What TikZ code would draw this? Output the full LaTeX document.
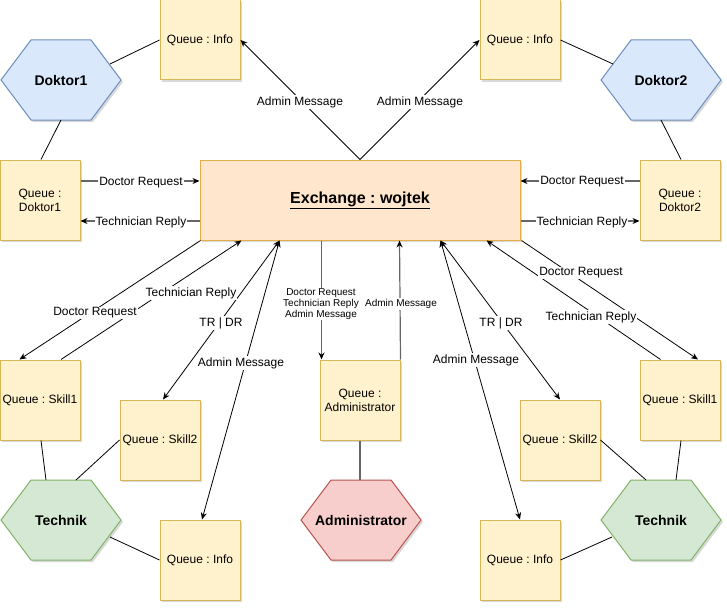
\documentclass[tikz,border=0pt]{standalone}
\usepackage{fontspec}
\setmainfont{Liberation Sans}
\usetikzlibrary{arrows.meta,calc,shadows}
\definecolor{qfill}{HTML}{FFF2CC}
\definecolor{qdraw}{HTML}{D6B656}
\definecolor{exfill}{HTML}{FFE6CC}
\definecolor{exdraw}{HTML}{E2AE48}
\definecolor{bfill}{HTML}{DAE8FC}
\definecolor{bdraw}{HTML}{6C8EBF}
\definecolor{gfill}{HTML}{D5E8D4}
\definecolor{gdraw}{HTML}{82B366}
\definecolor{rfill}{HTML}{F8CECC}
\definecolor{rdraw}{HTML}{B85450}
\definecolor{lgray}{HTML}{666666}
\tikzset{
  softshadow/.style={drop shadow={shadow xshift=2pt,shadow yshift=-2pt,opacity=0.15,fill=black}},
  queue/.style={draw=qdraw,fill=qfill,line width=1pt,minimum width=80pt,minimum height=80pt,
    inner sep=0pt,align=center,font=\fontsize{12}{14}\selectfont,softshadow},
  exbox/.style={draw=exdraw,fill=exfill,line width=1pt,minimum width=320pt,minimum height=80pt,
    font=\fontsize{16}{19}\selectfont\bfseries,softshadow},
  hexbox/.style={line width=1pt,softshadow},
  hextext/.style={font=\fontsize{14}{17}\selectfont\bfseries,inner sep=0pt},
  tipa/.style={-{Stealth[length=7pt,width=6pt]}},
  arr/.style={black,line width=0.8pt,tipa},
  darr/.style={black,line width=0.8pt,{Stealth[length=7pt,width=6pt]}-{Stealth[length=7pt,width=6pt]}},
  garr/.style={lgray,line width=1.2pt,-{Stealth[length=7pt,width=6pt,color=black]}},
  link/.style={black,line width=0.8pt},
  glink/.style={lgray,line width=1.2pt},
  lbl/.style={fill=white,inner sep=1pt,font=\fontsize{12}{14}\selectfont},
  slbl/.style={fill=white,inner sep=1pt,align=center,font=\fontsize{10}{12}\selectfont},
}
\newcommand{\hexshape}[5]{%
  \path[hexbox,fill=#3,draw=#4] ($#2+(-60,0)$) -- ($#2+(-30,-40)$) -- ($#2+(30,-40)$)
     -- ($#2+(60,0)$) -- ($#2+(30,40)$) -- ($#2+(-30,40)$) -- cycle;
  \node[hextext] (#1) at #2 {#5};%
}
\begin{document}
\frenchspacing
\begin{tikzpicture}[x=1pt,y=-1pt]
\useasboundingbox (0,0) rectangle (727,607);
% nodes
\node[exbox] (ex) at (360,200) {\raisebox{-3pt}{\underline{Exchange : wojtek}}};
\node[queue] (qi1) at (200,40) {Queue : Info};
\node[queue] (qi2) at (520,40) {Queue : Info};
\node[queue] (qd1) at (40,200) {Queue :\\Doktor1};
\node[queue] (qd2) at (680,200) {Queue :\\Doktor2};
\node[queue] (qs1l) at (40,400) {Queue : Skill1};
\node[queue] (qs2l) at (160,440) {Queue : Skill2};
\node[queue] (qi3) at (200,560) {Queue : Info};
\node[queue] (qad) at (360,400) {Queue :\\Administrator};
\node[queue] (qs2r) at (560,440) {Queue : Skill2};
\node[queue] (qs1r) at (680,400) {Queue : Skill1};
\node[queue] (qi4) at (520,560) {Queue : Info};
\hexshape{d1}{(61,80)}{bfill}{bdraw}{Doktor1}
\hexshape{d2}{(661,80)}{bfill}{bdraw}{Doktor2}
\hexshape{t1}{(61,520)}{gfill}{gdraw}{Technik}
\hexshape{t2}{(661,520)}{gfill}{gdraw}{Technik}
\hexshape{adm}{(361,520)}{rfill}{rdraw}{Administrator}
% hexagon border points
\coordinate (d1a) at (110,64);
\coordinate (d1b) at (61,120);
\coordinate (d2a) at (613,64);
\coordinate (d2b) at (661,120);
\coordinate (t1a) at (46,480);
\coordinate (t1b) at (76,480);
\coordinate (t1c) at (110,537);
\coordinate (t2a) at (676,480);
\coordinate (t2b) at (646,480);
\coordinate (t2c) at (612,537);
\coordinate (adma) at (360,480);
% plain links
\draw[link] (d1a) -- (qi1.west);
\draw[link] (d1b) -- ($(qd1.north)+(1,0)$);
\draw[link] (d2a) -- (qi2.east);
\draw[link] (d2b) -- ($(qd2.north)+(1,0)$);
\draw[link] ($(qs1l.south)+(1,0)$) -- (t1a);
\draw[link] (qs2l.west) -- (t1b);
\draw[link] (t1c) -- (qi3.west);
\draw[link] ($(qs1r.south)+(1,0)$) -- (t2a);
\draw[link] (qs2r.east) -- (t2b);
\draw[link] (t2c) -- (qi4.east);
\draw[glink] (qad.south) -- (adma);
% exchange connectors
\draw[arr] (ex.north) -- (qi1.east);
\draw[arr] (ex.north) -- (qi2.west);
\draw[garr] ($(qd1.east)+(0,-19)$) -- ($(ex.west)+(0,-19)$);
\draw[garr] ($(ex.west)+(0,21)$) -- ($(qd1.east)+(0,21)$);
\draw[garr] ($(qd2.west)+(0,-19)$) -- ($(ex.east)+(0,-19)$);
\draw[garr] ($(ex.east)+(0,21)$) -- ($(qd2.west)+(0,21)$);
\draw[arr] ($(ex.south west)+(1,0)$) -- ($(qs1l.north west)+(20,0)$);
\draw[arr] ($(qs1l.north)+(21,0)$) -- ($(ex.south west)+(42,0)$);
\draw[darr] ($(ex.south west)+(80,0)$) -- ($(qs2l.north)+(3,0)$);
\draw[darr] ($(ex.south west)+(80,0)$) -- ($(qi3.north)+(2,0)$);
\draw[garr] ($(ex.south west)+(122,0)$) -- ($(qad.north west)+(2,0)$);
\draw[garr] (qad.north east) -- ($(ex.south west)+(200,0)$);
\draw[darr] ($(ex.south west)+(241,0)$) -- (qs2r.north);
\draw[darr] ($(ex.south west)+(241,0)$) -- (qi4.north);
\draw[arr] ($(ex.south east)+(1,0)$) -- ($(qs1r.north)+(18,0)$);
\draw[arr] ($(qs1r.north west)+(21,0)$) -- ($(ex.south west)+(287,0)$);
% labels
\node[lbl] (l1) at (300,102) {Admin Message};
\node[lbl] (l2) at (420,102) {Admin Message};
\node[lbl] (l3) at (141,183) {Doctor Request};
\node[lbl] (l4) at (141,222) {Technician Reply};
\node[lbl] (l5) at (582,182) {Doctor Request};
\node[lbl] (l6) at (582,222) {Technician Reply};
\node[lbl] (l7) at (95,313) {Doctor Request};
\node[lbl] (l8) at (191,293) {Technician Reply};
\node[lbl] (l9) at (221,323) {TR | DR};
\node[lbl] (l10) at (241,363) {Admin Message};
\node[slbl] (l11) at (321,304) {Doctor Request\\[-1pt]Technician Reply\\[-1pt]Admin Message};
\node[slbl] (l12) at (401,304) {Admin Message};
\node[lbl] (l13) at (501,323) {TR | DR};
\node[lbl] (l14) at (476,360) {Admin Message};
\node[lbl] (l15) at (581,273) {Doctor Request};
\node[lbl] (l16) at (591,317) {Technician Reply};
\end{tikzpicture}
\end{document}
